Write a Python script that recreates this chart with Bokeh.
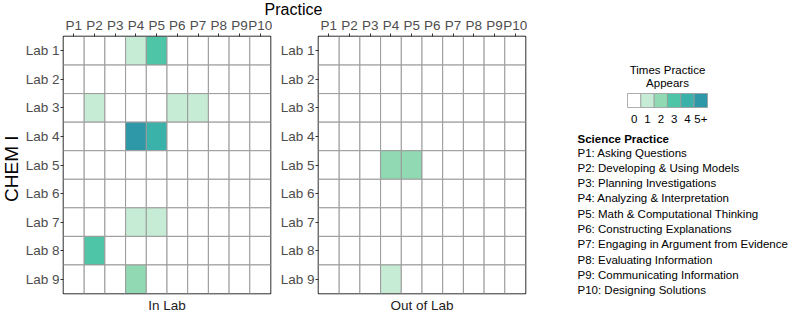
import math
from bokeh.plotting import figure
from bokeh.layouts import row, column
from bokeh.models import ColumnDataSource, FactorRange, Range1d, Label
from bokeh.core.properties import value
from bokeh.embed import file_html
from bokeh.resources import INLINE

FONT = "Liberation Sans"

practices = ["P1", "P2", "P3", "P4", "P5", "P6", "P7", "P8", "P9", "P10"]
labs = ["Lab 1", "Lab 2", "Lab 3", "Lab 4", "Lab 5", "Lab 6", "Lab 7", "Lab 8", "Lab 9"]

# counts per lab (rows) and practice (columns); 5 means "5+"
in_lab = [
    [0, 0, 0, 1, 3, 0, 0, 0, 0, 0],
    [0, 0, 0, 0, 0, 0, 0, 0, 0, 0],
    [0, 1, 0, 0, 0, 1, 1, 0, 0, 0],
    [0, 0, 0, 5, 4, 0, 0, 0, 0, 0],
    [0, 0, 0, 0, 0, 0, 0, 0, 0, 0],
    [0, 0, 0, 0, 0, 0, 0, 0, 0, 0],
    [0, 0, 0, 1, 1, 0, 0, 0, 0, 0],
    [0, 3, 0, 0, 0, 0, 0, 0, 0, 0],
    [0, 0, 0, 2, 0, 0, 0, 0, 0, 0],
]
out_of_lab = [
    [0, 0, 0, 0, 0, 0, 0, 0, 0, 0],
    [0, 0, 0, 0, 0, 0, 0, 0, 0, 0],
    [0, 0, 0, 0, 0, 0, 0, 0, 0, 0],
    [0, 0, 0, 0, 0, 0, 0, 0, 0, 0],
    [0, 0, 0, 2, 2, 0, 0, 0, 0, 0],
    [0, 0, 0, 0, 0, 0, 0, 0, 0, 0],
    [0, 0, 0, 0, 0, 0, 0, 0, 0, 0],
    [0, 0, 0, 0, 0, 0, 0, 0, 0, 0],
    [0, 0, 0, 1, 0, 0, 0, 0, 0, 0],
]

level_labels = ["0", "1", "2", "3", "4", "5+"]
level_colors = ["#ffffff", "#c7ecd5", "#90d9b2", "#4fc5a7", "#3ab2a9", "#2e97a8"]

practice_names = [
    "P1: Asking Questions",
    "P2: Developing & Using Models",
    "P3: Planning Investigations",
    "P4: Analyzing & Interpretation",
    "P5: Math & Computational Thinking",
    "P6: Constructing Explanations",
    "P7: Engaging in Argument from Evidence",
    "P8: Evaluating Information",
    "P9: Communicating Information",
    "P10: Designing Solutions",
]

TOP_H = 20      # header strip height
OVERLAP = 7     # panels row pulled up under the header strip
TOP_B = 23      # panel top border (axis)
FRAME_H = 257
BOT_B = 19
PANEL_H = TOP_B + FRAME_H + BOT_B


def blank(width, height, xr, yr):
    f = figure(width=width, height=height, x_range=Range1d(*xr), y_range=Range1d(*yr),
               toolbar_location=None, output_backend="svg", x_axis_type=None,
               y_axis_type=None, min_border=0, title=None)
    f.outline_line_color = None
    f.grid.visible = False
    return f


def panel(matrix, title, left_border):
    xs, ys, cs = [], [], []
    for i, lab in enumerate(labs):
        for j, pr in enumerate(practices):
            xs.append(pr)
            ys.append(lab)
            cs.append(level_colors[min(matrix[i][j], 5)])
    src = ColumnDataSource(dict(x=xs, y=ys, c=cs))
    p = figure(x_range=FactorRange(*practices), y_range=FactorRange(*reversed(labs)),
               frame_width=207, frame_height=FRAME_H, x_axis_location="above",
               toolbar_location=None, output_backend="svg",
               min_border_left=left_border, min_border_right=2,
               min_border_top=TOP_B, min_border_bottom=BOT_B,
               title=title, title_location="below")
    p.rect(x="x", y="y", width=1, height=1, fill_color="c", line_color="#9a9a9a",
           line_width=1, source=src)
    p.grid.visible = False
    p.outline_line_color = "black"
    p.outline_line_width = 1.5
    p.background_fill_color = "white"
    p.border_fill_alpha = 0
    for ax in (p.xaxis[0], p.yaxis[0]):
        ax.axis_line_color = None
        ax.major_tick_out = 3
        ax.major_tick_in = 0
        ax.major_tick_line_color = "#333333"
        ax.minor_tick_line_color = None
        ax.major_label_text_font = FONT
        ax.major_label_text_font_size = "13.5px"
        ax.major_label_text_color = "#4d4d4d"
        ax.major_label_standoff = 1
    p.title.align = "center"
    p.title.text_font = FONT
    p.title.text_font_size = "13.5px"
    p.title.text_font_style = "normal"
    p.title.text_color = "#222222"
    p.title.standoff = 4
    return p


# y-axis title strip
yfig = blank(22, PANEL_H, (0, 22), (PANEL_H, 0))
yfig.border_fill_alpha = 0
yfig.background_fill_alpha = 0
yfig.add_layout(Label(x=11, y=TOP_B + FRAME_H / 2 + 3.5, text="CHEM I", text_font=FONT,
                      text_font_size="19px", text_align="center", text_baseline="middle",
                      angle=math.pi / 2, text_color="black"))

fig1 = panel(in_lab, "In Lab", 40)
fig2 = panel(out_of_lab, "Out of Lab", 46)

# "Practice" header spanning both panels
tfig = blank(526, TOP_H, (0, 526), (TOP_H, 0))
tfig.add_layout(Label(x=293, y=8.5, text="Practice", text_font=FONT, text_font_size="16px",
                      text_align="center", text_baseline="middle", text_color="black"))

# legend figure (coordinates in pixels of its own canvas)
lfig = blank(264, 312, (0, 264), (312, 0))

cell_w = 13.33
bar_x0 = 100
sw_x = [bar_x0 + cell_w / 2 + cell_w * i for i in range(len(level_labels))]
lfig.rect(x=sw_x, y=[100] * len(sw_x), width=cell_w, height=14, fill_color=level_colors,
          line_color="#9a9a9a", line_width=0.8)
lfig.text(x=sw_x, y=[118] * len(sw_x), text=level_labels, text_font=value(FONT),
          text_font_size="11.5px", text_align="center", text_baseline="middle",
          text_color="black")
lfig.text(x=[140, 140], y=[69, 82], text=["Times Practice", "Appears"], text_font=value(FONT),
          text_font_size="11.5px", text_align="center", text_baseline="middle",
          text_color="black")
lfig.text(x=[50], y=[138], text=["Science Practice"], text_font=value(FONT),
          text_font_size="11.5px", text_font_style="bold", text_align="left",
          text_baseline="middle", text_color="black")
lfig.text(x=[50] * len(practice_names), y=[152 + 15.3 * i for i in range(len(practice_names))],
          text=practice_names, text_font=value(FONT), text_font_size="11.5px",
          text_align="left", text_baseline="middle", text_color="black")

panels = row(yfig, fig1, fig2, margin=(-OVERLAP, 0, 0, 0))
layout = row(column(tfig, panels), lfig)

open("out.html", "w").write(file_html(layout, INLINE))
